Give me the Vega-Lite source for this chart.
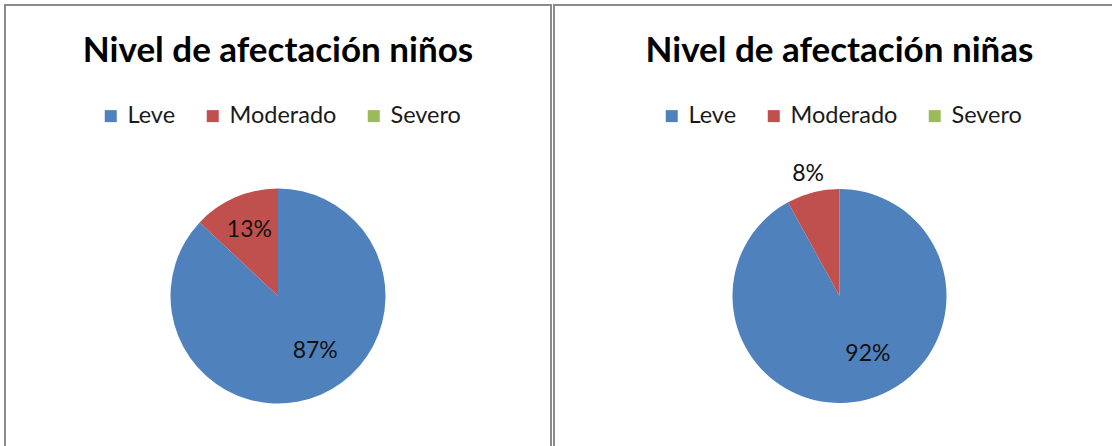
{
  "$schema": "https://vega.github.io/schema/vega-lite/v6.json",
  "padding": {"left": 4, "top": 4, "right": 0, "bottom": 0},
  "background": "white",
  "datasets": {
    "d": [
      {"grupo": "niños", "nivel": "Leve", "pct": 0.87},
      {"grupo": "niños", "nivel": "Moderado", "pct": 0.13},
      {"grupo": "niños", "nivel": "Severo", "pct": 0},
      {"grupo": "niñas", "nivel": "Leve", "pct": 0.92},
      {"grupo": "niñas", "nivel": "Moderado", "pct": 0.08},
      {"grupo": "niñas", "nivel": "Severo", "pct": 0}
    ]
  },
  "spacing": 1,
  "hconcat": [
    {
      "width": 546,
      "height": 582,
      "view": {"stroke": "#8c8c8c", "strokeWidth": 2, "fill": "white"},
      "data": {"name": "d"},
      "transform": [{"filter": "datum.grupo === 'niños'"}],
      "title": {"text": "Nivel de afectación niños", "offset": -64},
      "encoding": {
        "theta": {"field": "pct", "type": "quantitative", "stack": true},
        "order": {"field": "nivel", "type": "nominal"}
      },
      "layer": [
        {
          "mark": {"type": "arc", "outerRadius": 107.5},
          "encoding": {
            "color": {
              "field": "nivel",
              "type": "nominal",
              "scale": {"domain": ["Leve", "Moderado", "Severo"], "range": ["#4F81BD", "#C0504D", "#9BBB59"]},
              "legend": {"legendX": 94, "legendY": 99}
            }
          }
        },
        {
          "mark": {"type": "text", "radius": 66, "dx": 11, "dy": -6, "fontSize": 23, "font": "Lato", "color": "#111"},
          "encoding": {
            "text": {"condition": {"test": "datum.pct >= 0.5", "field": "pct", "type": "quantitative", "format": ".0%"}, "value": ""}
          }
        },
        {
          "mark": {"type": "text", "radius": 72, "fontSize": 23, "font": "Lato", "color": "#111"},
          "encoding": {
            "text": {"condition": {"test": "datum.pct >= 0.1 && datum.pct < 0.5", "field": "pct", "type": "quantitative", "format": ".0%"}, "value": ""}
          }
        }
      ]
    },
    {
      "width": 571,
      "height": 582,
      "view": {"stroke": "#8c8c8c", "strokeWidth": 2, "fill": "white"},
      "data": {"name": "d"},
      "transform": [{"filter": "datum.grupo === 'niñas'"}],
      "title": {"text": "Nivel de afectación niñas", "offset": -64},
      "encoding": {
        "theta": {"field": "pct", "type": "quantitative", "stack": true},
        "order": {"field": "nivel", "type": "nominal"}
      },
      "layer": [
        {
          "mark": {"type": "arc", "outerRadius": 107},
          "encoding": {
            "color": {
              "field": "nivel",
              "type": "nominal",
              "scale": {"domain": ["Leve", "Moderado", "Severo"], "range": ["#4F81BD", "#C0504D", "#9BBB59"]},
              "legend": {"legendX": 106, "legendY": 99}
            }
          }
        },
        {
          "mark": {"type": "text", "radius": 66, "dx": 12, "dy": -6, "fontSize": 23, "font": "Lato", "color": "#111"},
          "encoding": {
            "text": {"condition": {"test": "datum.pct >= 0.5", "field": "pct", "type": "quantitative", "format": ".0%"}, "value": ""}
          }
        },
        {
          "mark": {"type": "text", "radius": 126, "fontSize": 23, "font": "Lato", "color": "#111"},
          "encoding": {
            "text": {"condition": {"test": "datum.pct > 0 && datum.pct < 0.1", "field": "pct", "type": "quantitative", "format": ".0%"}, "value": ""}
          }
        }
      ]
    }
  ],
  "resolve": {"legend": {"color": "independent"}},
  "config": {
    "view": {"stroke": "#8c8c8c", "strokeWidth": 2},
    "title": {"font": "Lato", "fontSize": 35, "fontWeight": "bold", "color": "#000", "anchor": "middle"},
    "legend": {
      "orient": "none",
      "direction": "horizontal",
      "title": null,
      "symbolType": "square",
      "symbolSize": 144,
      "symbolStrokeWidth": 0,
      "labelFont": "Lato",
      "labelFontSize": 23.5,
      "labelColor": "#1a1a1a",
      "labelOffset": 5,
      "columnPadding": 25,
      "padding": 0
    }
  }
}
